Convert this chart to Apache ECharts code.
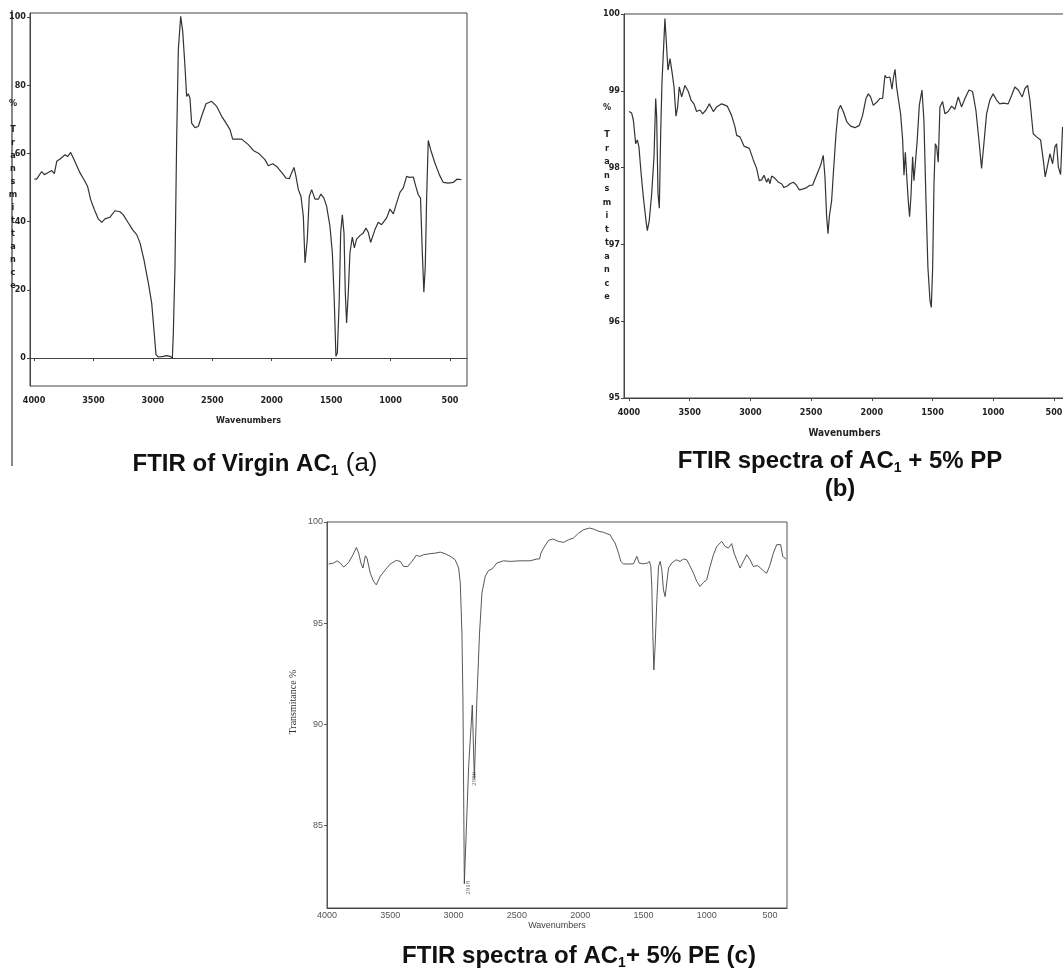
<!DOCTYPE html>
<html lang="en">
<head>
    <meta charset="UTF-8">
    <title>FTIR spectra</title>
    <script src="https://cdn.jsdelivr.net/npm/echarts@6.0.0/dist/echarts.min.js"></script>
    <style>
        body { margin: 0; background: #fff; }
        #chart { width: 1063px; height: 970px; }
    </style>
</head>
<body>
    <div id="chart"></div>
    <script>
        // (a) Virgin AC1
        const wnA = [3997, 3978, 3936, 3913, 3880, 3851, 3829, 3809, 3781, 3739, 3717, 3692, 3664, 3613, 3571, 3549, 3523, 3492, 3459, 3431, 3403, 3361, 3319, 3277, 3249, 3206, 3170, 3136, 3108, 3075, 3038, 3010, 2991, 2974, 2954, 2912, 2884, 2856, 2836, 2828, 2814, 2800, 2786, 2766, 2749, 2730, 2716, 2702, 2688, 2674, 2646, 2618, 2590, 2553, 2506, 2463, 2421, 2379, 2351, 2329, 2290, 2253, 2197, 2155, 2105, 2057, 2029, 1992, 1959, 1908, 1880, 1852, 1833, 1813, 1796, 1776, 1754, 1734, 1720, 1712, 1701, 1684, 1664, 1636, 1608, 1586, 1561, 1538, 1510, 1490, 1474, 1460, 1448, 1432, 1420, 1406, 1392, 1381, 1370, 1356, 1342, 1322, 1305, 1286, 1258, 1230, 1207, 1188, 1168, 1154, 1132, 1104, 1076, 1033, 1005, 977, 949, 921, 893, 865, 843, 809, 787, 767, 748, 734, 720, 708, 697, 683, 663, 627, 590, 557, 515, 473, 439, 403];
        const trA = [52.5, 52.5, 54.7, 53.8, 54.4, 55.0, 54.1, 57.7, 58.4, 59.6, 59.1, 60.3, 58.2, 54.3, 51.8, 50.3, 46.4, 43.5, 40.8, 39.8, 40.8, 41.3, 43.2, 42.9, 42.0, 39.6, 37.6, 36.2, 33.7, 28.8, 22.0, 16.1, 8.3, 1.0, 0.3, 0.5, 0.7, 0.5, 0, 7.3, 26.9, 64.0, 90.4, 100.2, 95.8, 85.5, 76.7, 77.5, 76.2, 68.9, 67.6, 67.9, 70.9, 74.6, 75.3, 73.8, 70.9, 68.6, 67.0, 64.2, 64.2, 64.2, 62.6, 60.9, 59.9, 58.2, 56.4, 57.0, 56.2, 54.1, 52.8, 52.6, 54.3, 55.9, 53.3, 49.4, 47.4, 41.5, 27.9, 27.4, 34.7, 47.4, 49.4, 46.6, 46.6, 48.1, 46.9, 44.5, 38.6, 30.8, 17.1, 0.5, 1.5, 17.1, 36.7, 42.0, 36.7, 19.1, 10.3, 19.1, 30.8, 35.5, 32.3, 34.9, 35.9, 36.7, 38.1, 36.9, 33.9, 33.7, 37.6, 39.8, 39.1, 41.1, 43.7, 42.3, 45.5, 48.6, 49.9, 53.3, 53.0, 53.1, 50.3, 47.9, 46.9, 31.8, 19.3, 26.9, 46.4, 63.8, 61.1, 57.2, 53.8, 51.5, 51.3, 51.5, 52.5, 52.3];

        // (b) AC1 + 5% PP
        const wnB = [4000, 3978, 3964, 3945, 3931, 3918, 3901, 3882, 3860, 3849, 3833, 3813, 3794, 3780, 3772, 3761, 3750, 3739, 3728, 3717, 3704, 3690, 3679, 3662, 3646, 3629, 3613, 3599, 3586, 3566, 3539, 3511, 3489, 3465, 3443, 3415, 3393, 3366, 3338, 3305, 3278, 3237, 3190, 3155, 3127, 3113, 3086, 3053, 3009, 2976, 2949, 2927, 2907, 2888, 2866, 2852, 2839, 2825, 2798, 2770, 2743, 2724, 2696, 2674, 2647, 2625, 2597, 2570, 2537, 2509, 2488, 2455, 2422, 2400, 2386, 2372, 2361, 2350, 2331, 2317, 2295, 2276, 2257, 2235, 2207, 2175, 2139, 2103, 2076, 2048, 2029, 2010, 1988, 1960, 1933, 1911, 1892, 1878, 1864, 1851, 1834, 1823, 1809, 1796, 1782, 1763, 1746, 1735, 1724, 1713, 1700, 1689, 1678, 1664, 1653, 1642, 1626, 1609, 1587, 1571, 1554, 1538, 1521, 1510, 1499, 1488, 1477, 1466, 1453, 1439, 1417, 1398, 1371, 1343, 1316, 1288, 1261, 1233, 1200, 1170, 1143, 1115, 1096, 1077, 1055, 1028, 1001, 973, 946, 918, 877, 849, 822, 794, 761, 739, 717, 698, 671, 643, 610, 588, 572, 555, 533, 511, 492, 478, 464, 445, 429];
        const trB = [98.73, 98.71, 98.62, 98.31, 98.36, 98.27, 97.94, 97.62, 97.31, 97.18, 97.31, 97.66, 98.14, 98.90, 98.66, 97.66, 97.47, 98.44, 99.12, 99.49, 99.94, 99.57, 99.27, 99.42, 99.25, 99.05, 98.67, 98.79, 99.05, 98.92, 99.07, 98.99, 98.88, 98.83, 98.73, 98.75, 98.70, 98.75, 98.83, 98.73, 98.79, 98.83, 98.80, 98.68, 98.53, 98.42, 98.40, 98.28, 98.25, 98.10, 97.99, 97.83, 97.84, 97.90, 97.81, 97.86, 97.79, 97.89, 97.86, 97.81, 97.79, 97.74, 97.76, 97.79, 97.81, 97.78, 97.71, 97.72, 97.74, 97.77, 97.77, 97.90, 98.03, 98.16, 97.88, 97.36, 97.14, 97.36, 97.57, 97.92, 98.44, 98.75, 98.81, 98.73, 98.60, 98.54, 98.52, 98.55, 98.68, 98.90, 98.96, 98.92, 98.81, 98.85, 98.90, 98.90, 99.20, 99.17, 99.16, 99.18, 99.02, 99.16, 99.28, 99.05, 98.90, 98.70, 98.36, 97.90, 98.20, 97.90, 97.57, 97.36, 97.62, 98.14, 97.83, 97.81, 98.36, 98.81, 99.01, 98.62, 97.57, 96.70, 96.27, 96.18, 96.70, 97.79, 98.31, 98.27, 98.07, 98.79, 98.86, 98.70, 98.73, 98.80, 98.76, 98.92, 98.79, 98.90, 99.01, 98.99, 98.75, 98.31, 97.99, 98.31, 98.70, 98.88, 98.96, 98.88, 98.83, 98.84, 98.83, 98.94, 99.05, 99.01, 98.92, 99.03, 99.07, 98.88, 98.44, 98.40, 98.36, 98.10, 97.88, 98.01, 98.18, 98.05, 98.27, 98.31, 98.01, 97.91, 98.53];

        // (c) AC1 + 5% PE
        const wnC = [3987, 3947, 3921, 3895, 3868, 3829, 3795, 3768, 3750, 3732, 3716, 3697, 3684, 3658, 3632, 3611, 3579, 3539, 3500, 3453, 3421, 3395, 3363, 3329, 3295, 3268, 3237, 3189, 3145, 3105, 3066, 3026, 2987, 2960, 2947, 2934, 2926, 2915, 2881, 2852, 2836, 2816, 2795, 2776, 2750, 2724, 2697, 2658, 2605, 2552, 2474, 2395, 2342, 2321, 2310, 2289, 2250, 2216, 2171, 2131, 2092, 2052, 2013, 1973, 1926, 1894, 1855, 1815, 1789, 1763, 1750, 1724, 1697, 1679, 1658, 1618, 1579, 1552, 1534, 1500, 1468, 1452, 1442, 1434, 1426, 1418, 1408, 1394, 1381, 1368, 1355, 1342, 1329, 1316, 1302, 1276, 1242, 1210, 1184, 1158, 1137, 1105, 1079, 1053, 1026, 1000, 974, 947, 921, 882, 855, 829, 803, 784, 763, 737, 711, 684, 658, 632, 600, 574, 547, 526, 500, 474, 447, 416, 400, 374];
        const trC = [97.92, 97.97, 98.08, 97.97, 97.77, 98.0, 98.38, 98.74, 98.46, 97.97, 97.72, 98.33, 98.21, 97.47, 97.06, 96.89, 97.31, 97.64, 97.92, 98.10, 98.05, 97.80, 97.80, 98.05, 98.35, 98.30, 98.38, 98.43, 98.46, 98.51, 98.43, 98.30, 98.13, 97.72, 96.98, 94.50, 91.19, 82.1, 87.9, 90.94, 87.3, 91.2, 94.5, 96.48, 97.31, 97.6, 97.67, 97.97, 98.08, 98.05, 98.08, 98.08, 98.17, 98.17, 98.46, 98.71, 99.09, 99.16, 99.04, 98.99, 99.12, 99.21, 99.45, 99.62, 99.70, 99.65, 99.54, 99.49, 99.42, 99.37, 99.21, 98.96, 98.46, 98.05, 97.93, 97.92, 97.93, 98.30, 97.97, 97.93, 97.97, 98.05, 97.80, 96.81, 94.5, 92.68, 93.83, 96.15, 97.80, 98.05, 97.64, 96.64, 96.31, 96.98, 97.72, 97.97, 98.13, 98.05, 98.17, 98.13, 97.88, 97.47, 97.06, 96.81, 97.01, 97.14, 97.80, 98.38, 98.79, 99.04, 98.79, 98.71, 98.93, 98.46, 98.13, 97.72, 98.05, 98.38, 98.13, 97.80, 97.84, 97.72, 97.55, 97.47, 97.88, 98.46, 98.88, 98.88, 98.30, 98.17];
        const peakWn = [2915, 2836];
        const peakTr = [82.1, 87.3];
        const peakLabels = ['2918', '2850'];

        const wnTicks = [4000, 3500, 3000, 2500, 2000, 1500, 1000, 500];
        const ticksA = [0, 20, 40, 60, 80, 100];
        const ticksC = [85, 90, 95, 100];

        const zip = (xs, ys) => xs.map((x, i) => [x, ys[i]]);
        const plain = v => String(v);

        const narrow = {
            fontFamily: "'DejaVu Sans Condensed', 'Liberation Sans Narrow', sans-serif",
            fontWeight: 'bold',
            fontSize: 9,
            color: '#222'
        };
        const small = {
            fontFamily: "'Liberation Sans', Arial, sans-serif",
            fontSize: 9,
            color: '#555'
        };
        const titleRich = {
            b: { fontFamily: "'Liberation Sans', Arial, sans-serif", fontSize: 24, fontWeight: 'bold', fill: '#111', lineHeight: 28 },
            s: { fontFamily: "'Liberation Sans', Arial, sans-serif", fontSize: 14, fontWeight: 'bold', fill: '#111', verticalAlign: 'bottom' },
            r: { fontFamily: "'Liberation Sans', Arial, sans-serif", fontSize: 26, fontWeight: 'normal', fill: '#111' }
        };

        function xAxisFor(gridIndex, min, max, labelMargin, labelStyle, nameStyle, nameGap, tickLen) {
            return {
                type: 'value', gridIndex, min, max, inverse: true,
                name: 'Wavenumbers', nameLocation: 'middle', nameGap,
                nameTextStyle: nameStyle,
                axisLine: { lineStyle: { color: '#444', width: 1 } },
                axisTick: { show: tickLen > 0, length: tickLen, customValues: wnTicks, lineStyle: { color: '#444' } },
                axisLabel: Object.assign({ customValues: wnTicks, margin: labelMargin, formatter: plain }, labelStyle),
                splitLine: { show: false }
            };
        }

        const chart = echarts.init(document.getElementById('chart'));

        chart.setOption({
            animation: false,
            backgroundColor: '#fff',
            grid: [
                { left: 30, top: 13, width: 437, height: 373, show: true, borderColor: '#444', borderWidth: 1, outerBoundsMode: 'none' },
                { left: 624, top: 14, width: 441, height: 384, show: true, borderColor: '#444', borderWidth: 1, outerBoundsMode: 'none' },
                { left: 327, top: 522, width: 460, height: 386, show: true, borderColor: '#555', borderWidth: 1, outerBoundsMode: 'none' }
            ],
            xAxis: [
                xAxisFor(0, 357, 4034, 10, narrow, Object.assign({}, narrow, { fontSize: 9 }), 30, 3),
                xAxisFor(1, 409, 4041, 10, narrow, Object.assign({}, narrow, { fontSize: 10 }), 30, 3),
                xAxisFor(2, 366, 4000, 3, small, Object.assign({}, small, { color: '#444' }), 11, 0)
            ],
            yAxis: [
                {
                    type: 'value', gridIndex: 0, min: -8.2, max: 101.2,
                    axisLine: { show: true, lineStyle: { color: '#444' } },
                    axisTick: { show: true, length: 3, customValues: ticksA, lineStyle: { color: '#444' } },
                    axisLabel: Object.assign({ customValues: ticksA, margin: 4 }, narrow),
                    splitLine: { show: false }
                },
                {
                    type: 'value', gridIndex: 1, min: 95, max: 100, interval: 1,
                    axisLine: { show: true, lineStyle: { color: '#444' } },
                    axisTick: { show: true, length: 3, lineStyle: { color: '#444' } },
                    axisLabel: Object.assign({ margin: 4 }, narrow),
                    splitLine: { show: false }
                },
                {
                    type: 'value', gridIndex: 2, min: 80.9, max: 100,
                    axisLine: { show: true, lineStyle: { color: '#555' } },
                    axisTick: { show: true, length: 3, customValues: ticksC, lineStyle: { color: '#555' } },
                    axisLabel: Object.assign({ customValues: ticksC, margin: 4 }, small),
                    splitLine: { show: false }
                }
            ],
            series: [
                {
                    type: 'line', xAxisIndex: 0, yAxisIndex: 0, data: zip(wnA, trA),
                    showSymbol: false, lineStyle: { color: '#333', width: 1.2 }
                },
                {
                    type: 'line', xAxisIndex: 1, yAxisIndex: 1, data: zip(wnB, trB),
                    showSymbol: false, lineStyle: { color: '#333', width: 1.2 }
                },
                {
                    type: 'line', xAxisIndex: 2, yAxisIndex: 2, data: zip(wnC, trC),
                    showSymbol: false, lineStyle: { color: '#444', width: 0.9 }
                },
                {
                    type: 'scatter', xAxisIndex: 2, yAxisIndex: 2, symbolSize: 0,
                    data: peakWn.map((w, i) => ({
                        value: [w, peakTr[i]],
                        label: i === 0 ? { position: 'bottom', distance: 4 } : { position: 'inside' }
                    })),
                    label: {
                        show: true, rotate: 90, fontSize: 7,
                        fontFamily: "'Liberation Serif', serif", color: '#444',
                        formatter: p => peakLabels[p.dataIndex]
                    }
                }
            ],
            graphic: [
                { type: 'line', shape: { x1: 12, y1: 10, x2: 12, y2: 466 }, style: { stroke: '#888', lineWidth: 2 } },
                {
                    type: 'text', x: 13, y: 97,
                    style: Object.assign({
                        text: '%\n\nT\nr\na\nn\ns\nm\ni\nt\nt\na\nn\nc\ne',
                        align: 'center', verticalAlign: 'top', lineHeight: 13, fill: '#222'
                    }, narrow)
                },
                {
                    type: 'text', x: 607, y: 101,
                    style: Object.assign({
                        text: '%\n\nT\nr\na\nn\ns\nm\ni\nt\nt\na\nn\nc\ne',
                        align: 'center', verticalAlign: 'top', lineHeight: 13.5, fill: '#222'
                    }, narrow)
                },
                {
                    type: 'text', x: 293, y: 702, rotation: Math.PI / 2,
                    style: {
                        text: 'Transmitance %', align: 'center', verticalAlign: 'middle',
                        fontFamily: "'Liberation Serif', 'Times New Roman', serif", fontSize: 10, fill: '#333'
                    }
                },
                {
                    type: 'text', x: 255, y: 464,
                    style: { text: '{b|FTIR of Virgin AC}{s|1}{r| (a)}', rich: titleRich, align: 'center', verticalAlign: 'middle' }
                },
                {
                    type: 'text', x: 840, y: 475,
                    style: { text: '{b|FTIR spectra of AC}{s|1}{b| + 5% PP}\n{b|(b)}', rich: titleRich, align: 'center', verticalAlign: 'middle' }
                },
                {
                    type: 'text', x: 579, y: 956,
                    style: { text: '{b|FTIR spectra of AC}{s|1}{b|+ 5% PE (c)}', rich: titleRich, align: 'center', verticalAlign: 'middle' }
                }
            ]
        });

        window.addEventListener('resize', function() {
            chart.resize();
        });
    </script>
</body>
</html>
